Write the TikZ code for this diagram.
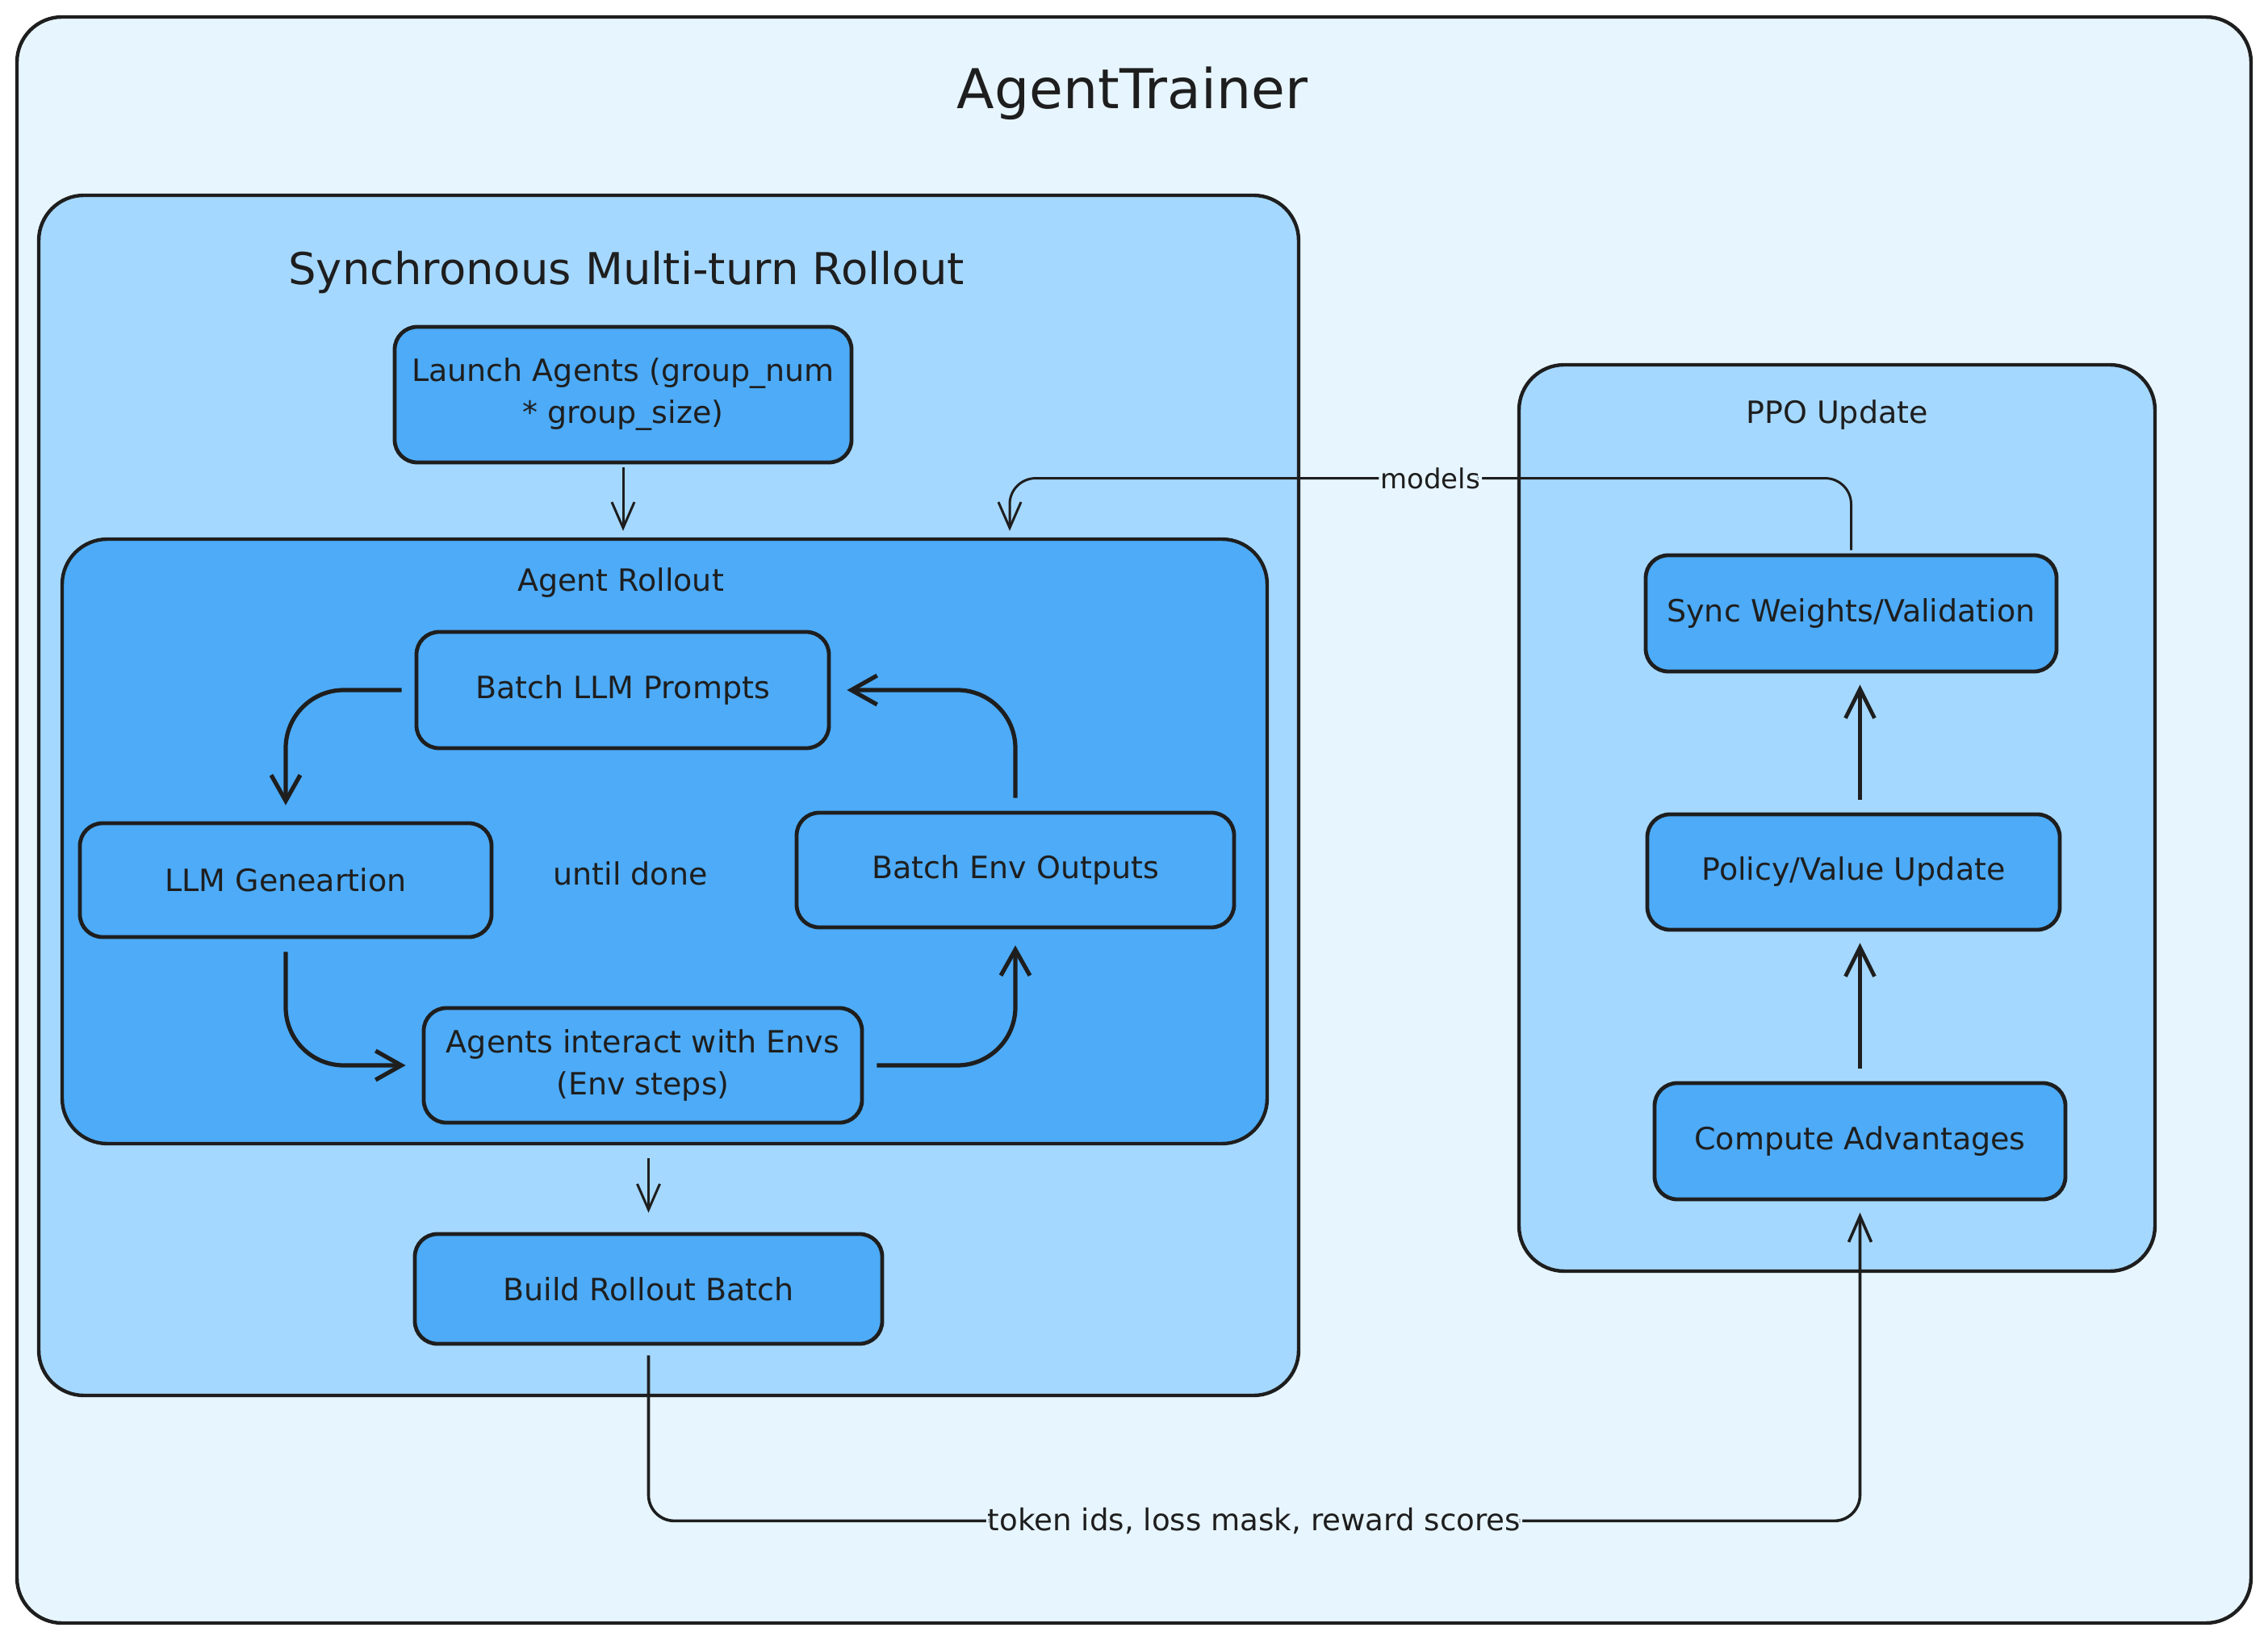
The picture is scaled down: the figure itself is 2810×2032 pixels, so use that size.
\documentclass[tikz,border=0pt]{standalone}
\usepackage{fontspec}
\setmainfont{DejaVu Sans}
\usetikzlibrary{positioning,arrows.meta,calc}
\definecolor{inkline}{HTML}{1E1E1E}
\definecolor{paleblue}{HTML}{E7F5FF}
\definecolor{lightblue}{HTML}{A5D8FF}
\definecolor{midblue}{HTML}{4DABF7}
\tikzset{
  frame/.style={draw=inkline, line width=1.1pt, rounded corners=14pt, inner sep=0pt},
  stepbox/.style={draw=inkline, fill=midblue, line width=1.2pt, rounded corners=7pt,
    align=center, text=inkline, font=\fontsize{9.5}{13}\selectfont, inner sep=2pt},
  heading/.style={text=inkline, font=\fontsize{9.5}{12}\selectfont},
  lbl/.style={text=inkline, fill=paleblue, inner sep=0.5pt, font=\fontsize{8.5}{10}\selectfont},
  conn/.style={draw=inkline, line width=0.75pt, -{Straight Barb[length=8pt,width=7pt]}},
  loopconn/.style={draw=inkline, line width=1.3pt, rounded corners=18pt,
    -{Straight Barb[length=8pt,width=9pt]}, shorten <=4pt, shorten >=5pt},
  upconn/.style={draw=inkline, line width=1.2pt, -{Straight Barb[length=9pt,width=9pt]},
    shorten <=4pt, shorten >=3.5pt}
}
\begin{document}
\begin{tikzpicture}[x=0.25pt, y=-0.25pt]
\useasboundingbox (0,0) rectangle (2810,2032);

\node[frame, fill=paleblue, minimum width=692pt, minimum height=497.5pt] (trainer) at (1405,1016) {};
\node[frame, fill=lightblue, minimum width=390.25pt, minimum height=371.75pt] (syncroll) at (828.5,985.5) {};
\node[frame, fill=lightblue, minimum width=197pt, minimum height=280.75pt] (ppo) at (2276,1013.5) {};
\node[frame, fill=midblue, minimum width=373.25pt, minimum height=187.25pt] (rollout) at (823.5,1042.5) {};

\node[text=inkline, font=\fontsize{17}{20}\selectfont] (maintitle) at (1403,116) {AgentTrainer};
\node[text=inkline, font=\fontsize{13.6}{16}\selectfont] (synctitle) at (776,337) {Synchronous Multi-turn Rollout};
\node[heading] (rollouttitle) at (769,722) {Agent Rollout};
\node[heading] (ppotitle) at (2276,514) {PPO Update};
\node[heading] (untildone) at (781,1082) {until done};

\node[stepbox, minimum width=141.5pt, minimum height=42pt] (launch) at (772,489) {Launch Agents (group\_num\\* group\_size)};
\node[stepbox, minimum width=127.75pt, minimum height=36pt] (prompts) at (771.5,855) {Batch LLM Prompts};
\node[stepbox, minimum width=127.5pt, minimum height=35.25pt] (gen) at (354,1090.5) {LLM Geneartion};
\node[stepbox, minimum width=135.5pt, minimum height=35.5pt] (envout) at (1258,1078) {Batch Env Outputs};
\node[stepbox, minimum width=135.75pt, minimum height=35.5pt] (interact) at (796.5,1320) {Agents interact with Envs\\(Env steps)};
\node[stepbox, minimum width=144.75pt, minimum height=34pt] (build) at (803.5,1597) {Build Rollout Batch};

\node[stepbox, minimum width=127.25pt, minimum height=36pt] (syncw) at (2293.5,760) {Sync Weights/Validation};
\node[stepbox, minimum width=127.75pt, minimum height=35.75pt] (policy) at (2296.5,1080.5) {Policy/Value Update};
\node[stepbox, minimum width=127.25pt, minimum height=36pt] (compute) at (2304.5,1414) {Compute Advantages};

\coordinate (modelsin) at ($(rollout.north)+(427.5,0)$);

\draw[conn, shorten <=1pt, shorten >=2pt] (launch.south) -- (launch.south |- rollout.north);
\draw[conn, shorten <=4pt, shorten >=6pt] (rollout.south -| build.north) -- (build.north);

\draw[loopconn] (prompts.west) -| (gen.north);
\draw[loopconn] (gen.south) |- (interact.west);
\draw[loopconn] (interact.east) -| (envout.south);
\draw[loopconn] (envout.north) |- (prompts.east);

\draw[upconn] (compute.north) -- (compute.north |- policy.south);
\draw[upconn] (policy.north -| compute.north) -- (compute.north |- syncw.south);

\draw[conn, rounded corners=8pt, shorten <=1pt, shorten >=2pt] (syncw.north) -- ++(0,-93) -| node[lbl, pos=0.25] {models} (modelsin);
\draw[conn, line width=0.9pt, rounded corners=8pt, shorten <=3pt, shorten >=3.5pt] (build.south) -- ++(0,217) -| node[lbl, pos=0.25, font=\fontsize{9.3}{11}\selectfont] {token ids, loss mask, reward scores} (compute.south);
\end{tikzpicture}
\end{document}
